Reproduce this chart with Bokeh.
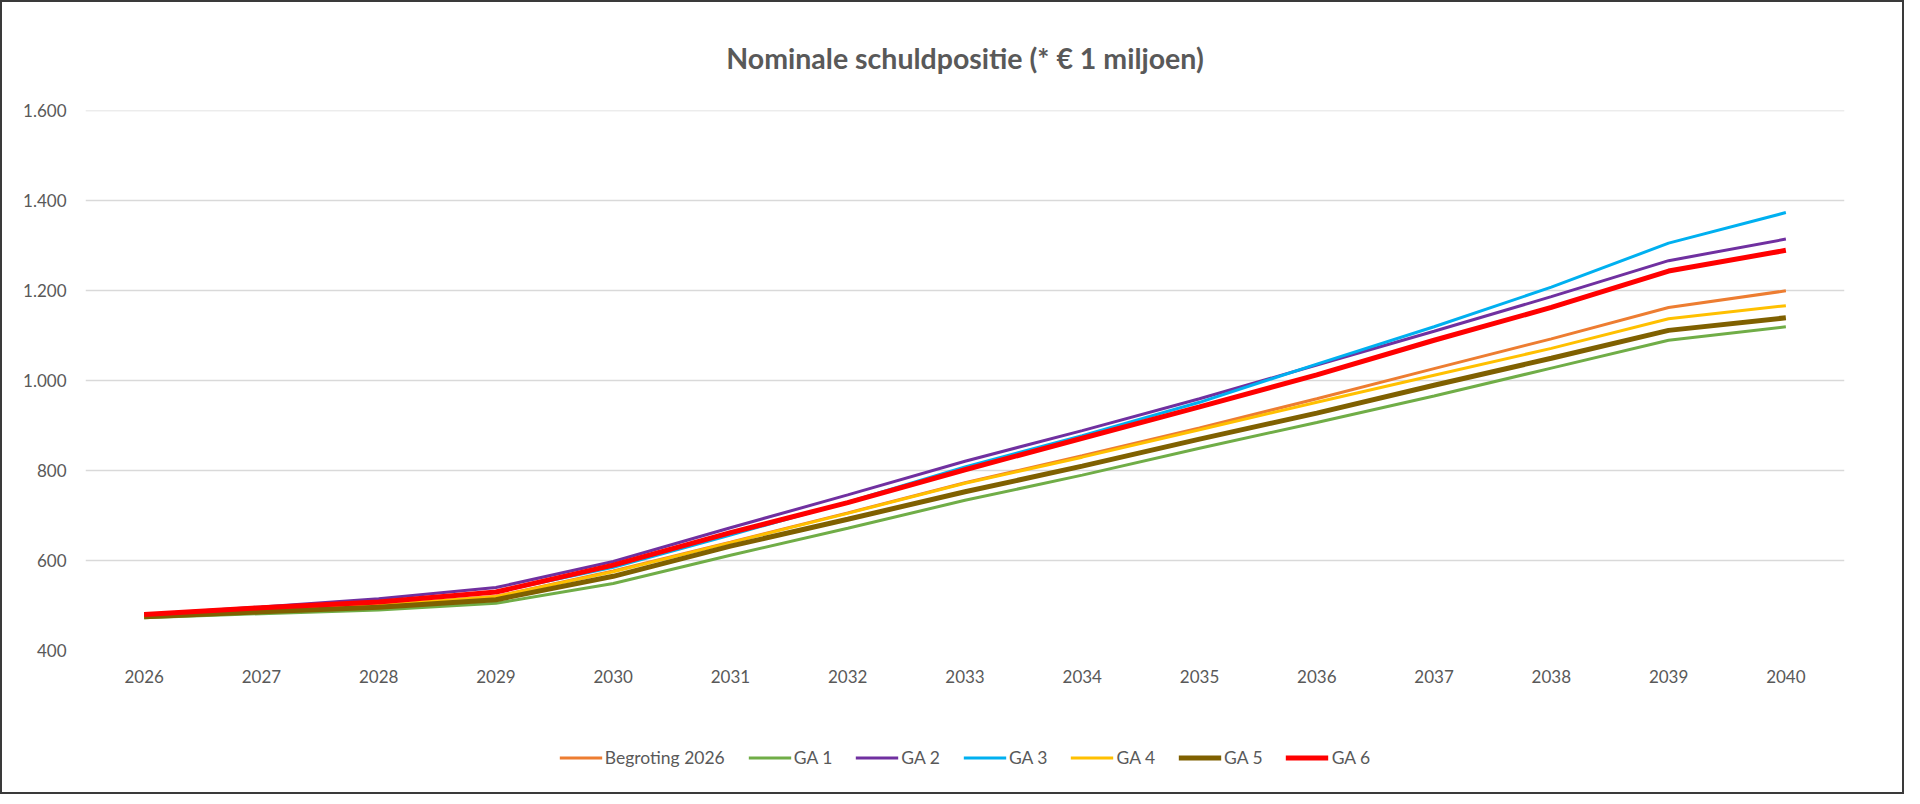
from bokeh.plotting import figure
from bokeh.models import FixedTicker, Legend, LegendItem
from bokeh.layouts import column
from bokeh.embed import file_html
from bokeh.resources import INLINE

years = [str(y) for y in range(2026, 2041)]

begroting = [477, 489, 500, 520, 577, 641, 706, 773, 833, 895, 960, 1027, 1093, 1163, 1200]
ga1 = [473, 482, 490, 505, 549, 612, 672, 734, 790, 850, 907, 966, 1028, 1090, 1120]
ga2 = [480, 497, 515, 540, 598, 673, 746, 821, 889, 960, 1035, 1110, 1187, 1267, 1315]
ga3 = [478, 493, 508, 530, 585, 657, 730, 808, 878, 952, 1037, 1120, 1208, 1306, 1374]
ga4 = [476, 488, 500, 520, 575, 640, 705, 772, 830, 891, 952, 1012, 1072, 1138, 1167]
ga5 = [475, 486, 496, 513, 565, 632, 692, 753, 810, 870, 928, 990, 1050, 1112, 1140]
ga6 = [480, 495, 508, 530, 590, 662, 729, 802, 872, 942, 1013, 1090, 1163, 1244, 1290]

series_names = ["Begroting 2026", "GA 1", "GA 2", "GA 3", "GA 4", "GA 5", "GA 6"]
y_ticks = [400, 600, 800, 1000, 1200, 1400, 1600]

series = [begroting, ga1, ga2, ga3, ga4, ga5, ga6]
colors = ["#ED7D31", "#70AD47", "#7030A0", "#00B0F0", "#FFC000", "#7F6000", "#FF0000"]
widths = [3, 3, 3, 3, 3, 5, 5]

FONT = "Lato"
GREY = "#595959"

p = figure(x_range=years, y_range=(400, 1601),
           frame_width=1759, frame_height=540,
           output_backend="svg", toolbar_location=None,
           title="Nominale schuldpositie (* € 1 miljoen)")
p.min_border_left = 83
p.min_border_right = 58
p.min_border_top = 103
p.min_border_bottom = 50
p.outline_line_color = None

p.title.align = "center"
p.title.text_font = FONT
p.title.text_font_size = "28.5px"
p.title.text_font_style = "bold"
p.title.text_color = GREY
p.title.standoff = 72

# axes
p.yaxis.ticker = FixedTicker(ticks=y_ticks)
p.yaxis.major_label_overrides = {v: f"{v:,}".replace(",", ".") for v in y_ticks}
for ax in (p.xaxis, p.yaxis):
    ax.axis_line_color = None
    ax.major_tick_line_color = None
    ax.minor_tick_line_color = None
    ax.major_tick_out = 0
    ax.major_label_text_font = FONT
    ax.major_label_text_font_size = "17px"
    ax.major_label_text_color = GREY
p.yaxis.major_label_standoff = 19
p.xaxis.major_label_standoff = 19

p.xgrid.grid_line_color = None
p.ygrid.grid_line_color = "#D9D9D9"
p.ygrid.grid_line_width = 1.5

for vals, c, w in zip(series, colors, widths):
    p.line(years, vals, line_color=c, line_width=w)

# legend strip under the chart; its lines fall outside the y range,
# they only give the legend its samples
leg = figure(width=1900, height=92, x_range=years, y_range=(0, 1),
             output_backend="svg", toolbar_location=None)
leg.min_border = 0
leg.min_border_top = 22
leg.axis.visible = False
leg.grid.visible = False
leg.outline_line_color = None

items = []
for name, vals, c, w in zip(series_names, series, colors, widths):
    r = leg.line(years, vals, line_color=c, line_width=w)
    items.append(LegendItem(label=name, renderers=[r]))

legend = Legend(items=items, orientation="horizontal", location="center")
legend.label_text_font = FONT
legend.label_text_font_size = "17.5px"
legend.label_text_color = GREY
legend.glyph_width = 43
legend.glyph_height = 20
legend.label_standoff = 3
legend.spacing = 23
legend.border_line_color = None
legend.background_fill_alpha = 0
legend.margin = 0
leg.add_layout(legend, "center")

layout = column(p, leg, styles={"border": "2px solid #3a3a3a"})

open("out.html", "w").write(file_html(layout, INLINE))
